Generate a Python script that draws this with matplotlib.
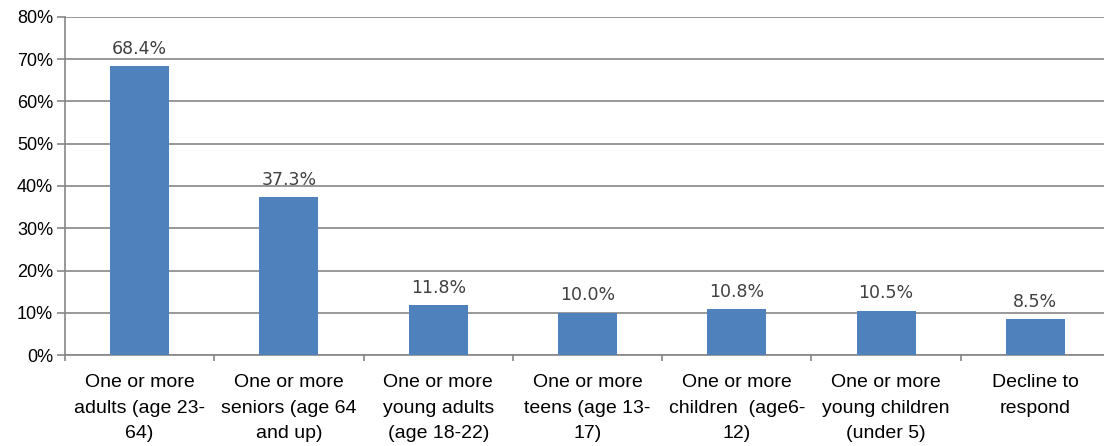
import matplotlib.pyplot as plt
import numpy as np

categories = [
    "One or more\nadults (age 23-\n64)",
    "One or more\nseniors (age 64\nand up)",
    "One or more\nyoung adults\n(age 18-22)",
    "One or more\nteens (age 13-\n17)",
    "One or more\nchildren  (age6-\n12)",
    "One or more\nyoung children\n(under 5)",
    "Decline to\nrespond",
]
values = [68.4, 37.3, 11.8, 10.0, 10.8, 10.5, 8.5]
y_ticks = [0, 10, 20, 30, 40, 50, 60, 70, 80]

bar_color = "#4F81BD"
grid_color = "#868686"

fig = plt.figure(figsize=(11.04, 4.46), dpi=100)
ax = fig.add_axes([65 / 1104, 91 / 446, 1045 / 1104, 338 / 446])

x = np.arange(len(categories))
bars = ax.bar(x, values, width=0.395, color=bar_color, zorder=3)

for xi, v in zip(x, values):
    ax.annotate(f"{v:.1f}%", (xi, v), xytext=(0, 9), textcoords="offset points",
                ha="center", va="baseline", fontsize=12.5, color="#404040",
                family="DejaVu Sans")

ax.set_xlim(-0.5, len(categories) - 0.5)
ax.set_ylim(0, 80)
ax.set_yticks(y_ticks)
ax.set_yticklabels([f"{t}%" for t in y_ticks], fontsize=13, family="Liberation Sans")
ax.yaxis.grid(True, color=grid_color, linewidth=1.2, zorder=0)

ax.set_xticks(x)
ax.set_xticklabels(categories, fontsize=14, family="Liberation Sans", linespacing=1.62)
ax.set_xticks(np.arange(len(categories) + 1) - 0.5, minor=True)
ax.tick_params(axis="x", which="major", length=0, pad=14)
ax.tick_params(axis="x", which="minor", length=4.5, color=grid_color, width=1.2)
ax.tick_params(axis="y", length=5.5, color=grid_color, width=1.2, pad=3)

for s in ["top", "right"]:
    ax.spines[s].set_visible(False)
for s in ["left", "bottom"]:
    ax.spines[s].set_color(grid_color)
    ax.spines[s].set_linewidth(1.2)

fig.savefig("out.png", dpi=100)
